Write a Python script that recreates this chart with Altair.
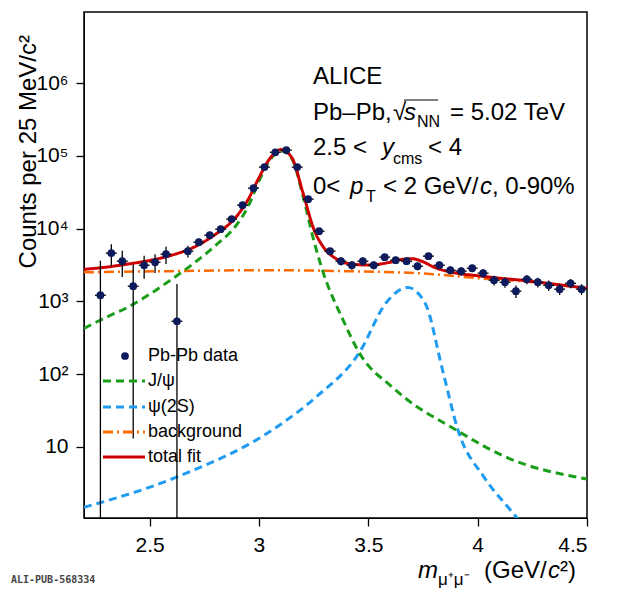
import altair as alt
import pandas as pd

# data points
mass = [round(2.275 + 0.05 * i, 3) for i in range(45)]
counts = [1213, 4590, 3560, 1613, 3140, 3450, 4450, 532, 4890, 6500, 8110, 9800, 13500, 21000, 36000,
          70000, 112000, 120000, 70000, 25400, 9200, 4900, 3560, 3140, 3560, 3140, 4050, 3680, 3560,
          3040, 4180, 3140, 2680, 2600, 2850, 2440, 1950, 1830, 1380, 2010, 1830, 1660, 1470, 1770, 1470]
errs = [2400, 1500, 1400, 1600, 1100, 1000, 1200, 1200, 900, 800, 800, 800, 900, 1100, 1500,
        2500, 3500, 3500, 2500, 1300, 700, 500, 450, 420, 430, 400, 430, 420, 400,
        380, 420, 380, 340, 330, 340, 320, 300, 290, 270, 290, 280, 270, 250, 260, 250]

# fit curves
total_x = [2.2, 2.3, 2.4, 2.5, 2.6, 2.7, 2.8, 2.9, 2.95, 3.0, 3.05, 3.1, 3.15, 3.2, 3.25, 3.3, 3.35, 3.4,
           3.5, 3.6, 3.65, 3.7, 3.75, 3.8, 3.9, 4.0, 4.1, 4.2, 4.3, 4.4, 4.5]
total = [2750, 2950, 3250, 3650, 4300, 5500, 8300, 15000, 25000, 50000, 92000, 122000, 95000, 32000,
         10000, 5300, 3900, 3350, 3150, 3450, 3750, 3850, 3500, 2950, 2450, 2250, 2080, 1950, 1800, 1650, 1510]
jpsi_x = [2.2, 2.3, 2.4, 2.5, 2.6, 2.7, 2.8, 2.9, 2.95, 3.0, 3.05, 3.1, 3.15, 3.2, 3.25, 3.29, 3.385,
          3.457, 3.61, 3.68, 3.88, 4.13, 4.5]
jpsi = [425, 600, 830, 1250, 2000, 3300, 5800, 11500, 20000, 45000, 87000, 118000, 92000, 29000,
        7000, 2700, 550, 200, 66, 44, 18.6, 7.2, 3.6]
psi2s_x = [2.2, 2.62, 3.08, 3.26, 3.46, 3.58, 3.68, 3.76, 3.84, 3.91, 4.03, 4.15, 4.25]
psi2s = [1.47, 3.8, 18.6, 48, 200, 940, 1550, 940, 112, 17, 3.8, 1.35, 0.6]
bkg_x = [2.2, 2.6, 3.0, 3.4, 3.8, 4.0, 4.2, 4.5]
bkg = [2510, 2600, 2680, 2600, 2360, 2080, 1890, 1510]

YMIN, YMAX = 1.05, 9.5e6
pts = pd.DataFrame({"m": mass, "c": counts})
pts["lo"] = [max(c - e, YMIN) for c, e in zip(counts, errs)]
pts["hi"] = [c + e for c, e in zip(counts, errs)]
pts["m0"] = pts["m"] - 0.025
pts["m1"] = pts["m"] + 0.025

rows = []
for name, xv_, vals in [("jpsi", jpsi_x, jpsi), ("psi2s", psi2s_x, psi2s), ("bkg", bkg_x, bkg), ("total", total_x, total)]:
    for xv, yv in zip(xv_, vals):
        rows.append({"m": xv, "v": yv, "s": name})
cur = pd.DataFrame(rows)

FONT = "Liberation Sans"
xs = alt.Scale(domain=[2.2, 4.5], nice=False, zero=False)
ys = alt.Scale(type="log", domain=[YMIN, YMAX], nice=False)
xaxis = alt.Axis(values=[2.5, 3, 3.5, 4, 4.5], format="~g", title=None, labelFontSize=21,
                 labelFont=FONT, tickSize=8, tickColor="black", labelColor="black",
                 domainColor="black", grid=False, labelPadding=8)
yaxis = alt.Axis(values=[10, 100, 1000, 10000, 100000, 1000000],
                 labelExpr="{'10':'10','100':'10²','1000':'10³','10000':'10⁴','100000':'10⁵','1000000':'10⁶'}[format(datum.value,'d')]",
                 title=None, labelFontSize=21, labelFont=FONT, tickSize=8,
                 tickColor="black", labelColor="black", domainColor="black", grid=False, labelPadding=8)

X = alt.X("m:Q", scale=xs, axis=xaxis)
Y = alt.Y("v:Q", scale=ys, axis=yaxis)

def curve(name, color, dash, w):
    return alt.Chart(cur).transform_filter(f"datum.s=='{name}'").mark_line(
        color=color, strokeDash=dash, strokeWidth=w, clip=True, interpolate="monotone").encode(x=X, y=Y)

GREEN, BLUE, ORANGE, RED = "#1a9e1a", "#1f9bf0", "#ff6a00", "#cc0000"
jl = curve("jpsi", GREEN, [8, 5], 3)
pl = curve("psi2s", BLUE, [8, 5], 3)
bl = curve("bkg", ORANGE, [10, 4, 2, 4], 2.5)
tl = curve("total", RED, [1, 0], 3)

base = alt.Chart(pts)
ebar = base.mark_rule(color="black", strokeWidth=1.3, clip=True).encode(
    x=alt.X("m:Q", scale=xs, axis=xaxis), y=alt.Y("lo:Q", scale=ys, axis=yaxis), y2="hi:Q")
hbar = base.mark_rule(color="black", strokeWidth=1.3, clip=True).encode(
    x=alt.X("m0:Q", scale=xs, axis=xaxis), x2="m1:Q", y=alt.Y("c:Q", scale=ys, axis=yaxis))
dots = base.mark_circle(color="#0d1a5c", opacity=1, size=60, clip=True).encode(
    x=alt.X("m:Q", scale=xs, axis=xaxis), y=alt.Y("c:Q", scale=ys, axis=yaxis))

one = pd.DataFrame({"s": [""]})

def T(s, x, y, size=24, italic=False, font=FONT, color="black", baseline="alphabetic", weight="normal"):
    d = pd.DataFrame({"s": [s]})
    kw = {"fontStyle": "italic"} if italic else {}
    return alt.Chart(d).mark_text(align="left", baseline=baseline, fontSize=size, font=font,
                                  color=color, fontWeight=weight, **kw).encode(
        x=alt.value(x), y=alt.value(y), text="s:N")

# legend
leg_labels = ["Pb-Pb data", "J/ψ", "ψ(2S)", "background", "total fit"]
leg_y = [344, 369, 395, 420, 445]
leg = [T(t, 64, yy, size=18, baseline="middle") for t, yy in zip(leg_labels, leg_y)]
leg.append(alt.Chart(one).mark_circle(color="#0d1a5c", opacity=1, size=60).encode(
    x=alt.value(41), y=alt.value(leg_y[0])))
for yy, col, dash in [(leg_y[1], GREEN, [8, 5]), (leg_y[2], BLUE, [8, 5]),
                      (leg_y[3], ORANGE, [10, 4, 2, 4]), (leg_y[4], RED, [1, 0])]:
    leg.append(alt.Chart(one).mark_rule(color=col, strokeDash=dash, strokeWidth=3).encode(
        x=alt.value(19), x2=alt.value(61), y=alt.value(yy)))

txt = [T("ALICE", 229, 72),
       T("Pb–Pb,", 229, 108), T("√", 309, 108), T("s", 320, 108, italic=True),
       T("NN", 333, 115, size=16), T("= 5.02 TeV", 366, 108),
       T("2.5 <", 229, 143), T("y", 298, 143, italic=True),
       T("cms", 309, 152, size=16), T("< 4", 344, 143),
       T("0<", 229, 182), T("p", 266, 182, italic=True),
       T("T", 282, 190, size=16), T("< 2 GeV/", 299, 182), T("c", 396, 182, italic=True),
       T(", 0-90%", 408, 182),
       T("m", 334, 566, italic=True), T("μ⁺μ⁻", 354, 573, size=17),
       T("(GeV/", 400, 566), T("c", 464, 566, italic=True), T("²)", 476, 566),
       T("ALI-PUB-568334", -73, 571, size=10, font="DejaVu Sans Mono", color="#444444", weight="bold")]

sqrt_bar = alt.Chart(one).mark_rule(color="black", strokeWidth=1.2).encode(
    x=alt.value(320), x2=alt.value(354), y=alt.value(88))

ytitle = alt.Chart(pd.DataFrame({"s": ["Counts per 25 MeV/c²"]})).mark_text(
    angle=270, align="right", baseline="alphabetic", fontSize=24, font=FONT, color="black").encode(
    x=alt.value(-48), y=alt.value(23), text="s:N")

chart = alt.layer(bl, pl, jl, tl, ebar, hbar, dots, *leg, *txt, sqrt_bar, ytitle).properties(
    width=503, height=506, padding={"left": 76, "top": 4, "right": 25, "bottom": 70},
    autosize=alt.AutoSizeParams(type="none")
).configure_view(stroke="black", strokeWidth=1.5).configure_axis(tickWidth=1.3)

chart.save("out.html", embed_options={"renderer": "svg", "actions": False})
